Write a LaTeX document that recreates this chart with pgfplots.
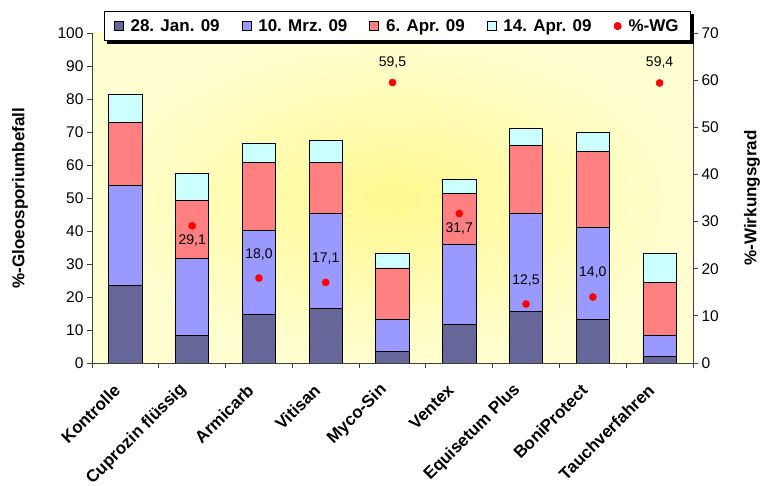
\documentclass[border=0pt]{standalone}
\usepackage{fontspec}
\setmainfont{Liberation Sans}
\usepackage{pgfplots}
\pgfplotsset{compat=1.18}
\definecolor{c1}{HTML}{666699}
\definecolor{c2}{HTML}{9999FF}
\definecolor{c3}{HTML}{FF8080}
\definecolor{c4}{HTML}{CCFFFF}
\definecolor{bgin}{HTML}{FFF88F}
\definecolor{bgout}{HTML}{FFFFD2}
\newcommand\tfs{\fontsize{15.5}{18}\selectfont}
\newcommand\lfs{\fontsize{17}{20}\selectfont\bfseries}
\newcommand\dfs{\fontsize{14}{16}\selectfont}
\pgfplotstableread{
x a b c d
0 23.6 30.3 18.9 8.6
1 8.4 23.3 17.6 8.3
2 14.6 25.6 20.6 5.8
3 16.6 28.7 15.5 6.7
4 3.5 9.8 15.5 4.3
5 11.6 24.3 15.5 4.2
6 15.5 29.8 20.5 5.3
7 13.3 27.9 23.0 5.7
8 1.9 6.4 16.2 8.6
}\bars
\begin{document}
\begin{tikzpicture}
\useasboundingbox (-92pt,-123pt) rectangle (671pt,363pt);
\begin{axis}[
  at={(0pt,0pt)}, anchor=south west,
  scale only axis, width=601pt, height=330pt,
  ybar stacked, bar width=0.5,
  xmin=-0.5, xmax=8.5, ymin=0, ymax=100,
  axis lines=left, axis line style={-, black!75, line width=0.8pt},
  xtick={0,...,8},
  xticklabels={Kontrolle, Cuprozin flüssig, Armicarb, Vitisan, Myco-Sin, Ventex, Equisetum Plus, BoniProtect, Tauchverfahren},
  major x tick style={draw=none},
  minor xtick={-0.5,0.5,...,8.5},
  minor x tick style={black!75, line width=0.8pt},
  minor tick length=5pt,
  ytick={0,10,...,100},
  major tick length=5pt,
  y tick style={black!75, line width=0.8pt},
  tick align=outside,
  /pgf/number format/assume math mode=true,
  yticklabel style={font=\tfs},
  xticklabel style={font=\lfs, anchor=east, xshift=-6pt, yshift=-17pt, rotate=45},
  ylabel={\%-Gloeosporiumbefall},
  ylabel style={font=\lfs, at={(axis description cs:-0.12,0.5)}, anchor=center},
  axis background/.style={inner color=bgin, outer color=bgout},
  every axis plot/.append style={draw=black, line width=0.8pt},
]
\addplot[fill=c1] table[x=x,y=a]{\bars};
\addplot[fill=c2] table[x=x,y=b]{\bars};
\addplot[fill=c3] table[x=x,y=c]{\bars};
\addplot[fill=c4] table[x=x,y=d]{\bars};
\end{axis}
\begin{axis}[
  at={(0pt,0pt)}, anchor=south west,
  scale only axis, width=601pt, height=330pt,
  xmin=-0.5, xmax=8.5, ymin=0, ymax=70,
  axis x line=none, axis y line*=right,
  axis line style={-, black!75, line width=0.8pt},
  ytick={0,10,...,70},
  major tick length=5pt,
  y tick style={black!75, line width=0.8pt},
  tick align=outside,
  /pgf/number format/assume math mode=true,
  yticklabel style={font=\tfs},
  ylabel={\%-Wirkungsgrad},
  ylabel style={font=\lfs, at={(axis description cs:1.098,0.5)}, anchor=center},
  legend columns=5,
  legend style={at={(axis description cs:0.508,1.0667)}, anchor=north, name=leg,
    draw=black, line width=0.8pt, fill=white, font=\lfs,
    inner xsep=10pt, inner ysep=6pt,
    /tikz/every odd column/.append style={column sep=5pt},
    /tikz/every even column/.append style={column sep=20pt}},
  legend cell align=left,
]
\addlegendimage{legend image code/.code={\draw[line width=0.6pt, draw=black, fill=c1] (0pt,-4.5pt) rectangle (9pt,4.5pt);}}
\addlegendentry{28. Jan. 09}
\addlegendimage{legend image code/.code={\draw[line width=0.6pt, draw=black, fill=c2] (0pt,-4.5pt) rectangle (9pt,4.5pt);}}
\addlegendentry{10. Mrz. 09}
\addlegendimage{legend image code/.code={\draw[line width=0.6pt, draw=black, fill=c3] (0pt,-4.5pt) rectangle (9pt,4.5pt);}}
\addlegendentry{6. Apr. 09}
\addlegendimage{legend image code/.code={\draw[line width=0.6pt, draw=black, fill=c4] (0pt,-4.5pt) rectangle (9pt,4.5pt);}}
\addlegendentry{14. Apr. 09}
\addplot[only marks, mark=*, mark size=3.6pt, color=red,
  legend image code/.code={\fill[red] (4.5pt,0pt) circle (3.6pt);},
  point meta=explicit symbolic, nodes near coords,
  nodes near coords style={font=\dfs, text=black, anchor=center, yshift=24pt}]
  coordinates {(2,18.0) [18,0] (3,17.1) [17,1] (6,12.5) [12,5] (7,14.0) [14,0]};
\addlegendentry{\%-WG}
\addplot[only marks, mark=*, mark size=3.6pt, color=red, forget plot,
  point meta=explicit symbolic, nodes near coords,
  nodes near coords style={font=\dfs, text=black, anchor=center, yshift=20pt}]
  coordinates {(4,59.5) [59,5] (8,59.4) [59,4]};
\addplot[only marks, mark=*, mark size=3.6pt, color=red, forget plot,
  point meta=explicit symbolic, nodes near coords,
  nodes near coords style={font=\dfs, text=black, anchor=center, yshift=-15pt}]
  coordinates {(1,29.1) [29,1] (5,31.7) [31,7]};
\end{axis}
\fill[black] ([xshift=3pt]leg.south west) rectangle ([xshift=3pt,yshift=-3pt]leg.south east);
\fill[black] ([yshift=-3pt]leg.north east) rectangle ([xshift=3pt,yshift=-3pt]leg.south east);
\end{tikzpicture}
\end{document}
